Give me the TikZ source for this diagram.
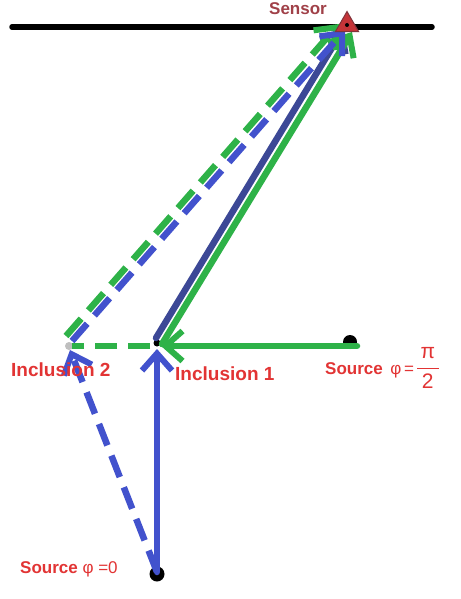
\documentclass[tikz,border=0pt]{standalone}
\usepackage{fontspec}
\setmainfont{Liberation Sans}
\usetikzlibrary{arrows.meta,shapes.geometric}
\definecolor{grn}{RGB}{46,178,72}
\definecolor{blu}{RGB}{66,82,205}
\definecolor{navy}{RGB}{60,72,150}
\definecolor{lbl}{RGB}{226,52,52}
\definecolor{sens}{RGB}{160,64,72}
\definecolor{tri}{RGB}{196,52,56}
\begin{document}
\begin{tikzpicture}[x=1pt,y=-1pt,
  ray/.style={line width=6.5pt, line cap=round, -{Straight Barb[length=17pt,width=30pt,line width=6pt]}},
  dray/.style={ray, line cap=butt, dash pattern=on 23pt off 11pt},
  lab/.style={text=lbl, font=\bfseries\fontsize{19}{19}\selectfont, inner sep=0pt},
  slab/.style={text=lbl, font=\fontsize{17}{17}\selectfont, inner sep=0pt},
  dot/.style={circle, fill=black, inner sep=0pt, minimum size=#1}]
\useasboundingbox (0,0) rectangle (460,599);
\fill[white] (0,0) rectangle (460,599);

% sensor line
\draw[line width=5.5pt, line cap=round] (12,27) -- (432,27);

% points
\node[dot=14pt] (P) at (350,342) {};
\node[dot=15pt] (Z) at (157,574) {};
\node[dot=7pt] (I1) at (157,343) {};
\node[circle, fill=gray!50, inner sep=0pt, minimum size=8pt] (I2) at (69,346) {};

% coordinates for ray ends
\coordinate (Pa) at (357,346);
\coordinate (I1r) at (161,346);
\coordinate (I1l) at (150,346);
\coordinate (I2r) at (72,346);
\coordinate (Zt) at (157,572);
\coordinate (I1b) at (157,349);
\coordinate (I2b) at (70,350);
\coordinate (I1n) at (156,338);
\coordinate (I1g) at (162,344);
\coordinate (I2g) at (66,336);
\coordinate (I2u) at (72,341);
\coordinate (Sn) at (344,28);
\coordinate (Sg) at (352,32);
\coordinate (Sgd) at (339,24);
\coordinate (Sbd) at (345,30);

% rays
\draw[ray, grn] (Pa) -- (I1r);
\draw[line width=6.5pt, grn, dash pattern=on 22pt off 11pt] (I1l) -- (I2r);
\draw[ray, blu] (Zt) -- (I1b);
\draw[dray, blu] (Zt) -- (I2b);
\draw[ray, navy] (I1n) -- (Sn);
\draw[ray, grn] (I1g) -- (Sg);
\draw[dray, grn] (I2g) -- (Sgd);
\draw[dray, blu] (I2u) -- (Sbd);

% sensor
\node[regular polygon, regular polygon sides=3, fill=tri, draw=sens!80!black, line width=1pt,
      minimum size=27pt, inner sep=0pt] (S) at (347,25) {};
\fill[black] (S.center) circle (2pt);
\node[text=sens, font=\bfseries\fontsize{17}{17}\selectfont, inner sep=0pt] (Slab) at (298,9) {Sensor};

% labels
\node[lab, anchor=west] (L2) at (11,370) {Inclusion 2};
\node[lab, anchor=west] (L1) at (175,374) {Inclusion 1};
\node[slab, anchor=west] (Lp) at (325,369) {{\bfseries Source} \,φ\,=\,{\fontsize{21}{21}\selectfont\begin{tabular}{@{}c@{}}\,π\,\\[3pt]\hline\rule{0pt}{20pt}2\end{tabular}}};
\node[slab, anchor=west] (L0) at (20,569) {{\bfseries Source} φ =0};
\end{tikzpicture}
\end{document}
